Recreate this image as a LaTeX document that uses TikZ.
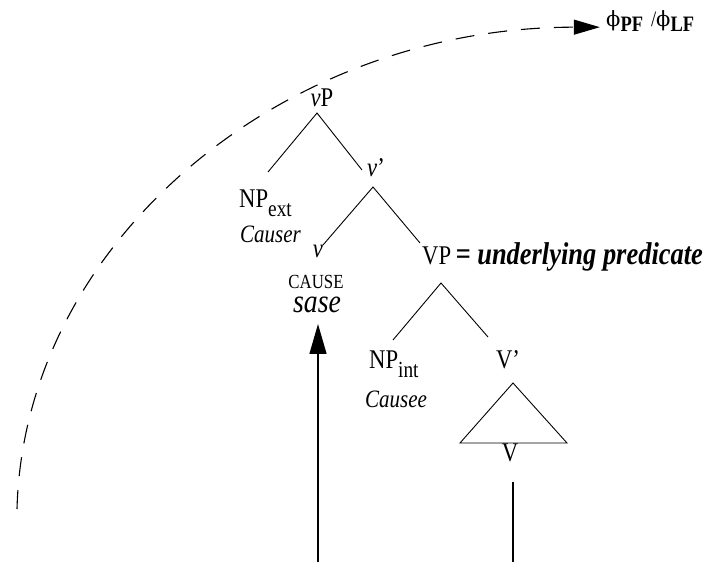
\documentclass[tikz,border=0pt]{standalone}
\usepackage{fontspec}
\setmainfont[FakeStretch=0.84]{Liberation Serif}
\newfontfamily\phifont{DejaVu Serif}
\usetikzlibrary{arrows.meta, positioning}
\definecolor{ink}{HTML}{000000}
\tikzset{
  lbl/.style={font=\fontsize{27}{29}\selectfont, text=ink, inner sep=0pt, anchor=base},
  role/.style={font=\itshape\fontsize{25}{27}\selectfont, text=ink, inner sep=0pt, anchor=base},
  head/.style={font=\fontsize{20}{22}\selectfont, text=ink, inner sep=0pt, anchor=base},
  morph/.style={font=\itshape\fontsize{33}{35}\selectfont, text=ink, inner sep=0pt, anchor=base, text height=15pt},
  note/.style={font=\bfseries\itshape\fontsize{31.5}{33}\selectfont, text=ink, inner sep=0pt, anchor=base west},
  outlbl/.style={font=\fontsize{22}{24}\selectfont, text=ink, inner sep=0pt, anchor=base west},
  branch/.style={draw=ink, line width=0.9pt},
  feed/.style={draw=ink, line width=1.4pt},
  spellout/.style={draw=ink, line width=1.1pt, dash pattern=on 19pt off 14pt}
}
\newcommand{\lowsub}[1]{\raisebox{-9pt}{\fontsize{23}{23}\selectfont #1}}
\newcommand{\pfsub}[1]{\raisebox{-5pt}{\fontsize{22}{22}\selectfont\bfseries #1}}
\newcommand{\phisym}{{\phifont\fontsize{21}{23}\selectfont ϕ}}

\begin{document}
\begin{tikzpicture}[x=1pt,y=1pt]
\useasboundingbox (0,0) rectangle (706,562);

\node[lbl] (vP) at (322,455) {\textit{v}P};
\node[lbl] (vbar) at (376,385) {\textit{v}’};
\node[lbl, anchor=base west] (npext) at (239,354) {NP\lowsub{ext}};
\node[role, anchor=base west] (causer) at (240,319) {Causer};
\node[lbl] (vsmall) at (318,304) {\textit{v}};
\node[lbl, anchor=base west] (vp) at (422,297) {VP};
\node[note] (pred) at ([xshift=4pt]vp.base east) {= underlying predicate};
\node[head] (cause) at (316,273) {CAUSE};
\node[morph] (sase) at (317,249) {sase};
\node[lbl, anchor=base west] (npint) at (369,193) {NP\lowsub{int}};
\node[role] (causee) at (396,154) {Causee};
\node[lbl] (vbar2) at (508,193) {V’};
\node[lbl] (vlow) at (510,100) {V};
\node[outlbl] (phi) at (606,535) {\phisym\pfsub{PF}\hspace{8pt}/\phisym\pfsub{LF}};

\coordinate (arcstart) at (17,53);
\coordinate (abot) at (318,0);
\coordinate (vbot) at (513,0);

\draw[branch] ([xshift=29pt,yshift=36pt]npext.base west) -- ([xshift=-5pt,yshift=-6pt]vP.base) -- ([xshift=-14pt,yshift=7pt]vbar.base);
\draw[branch] ([xshift=5pt,yshift=13pt]vsmall.base) -- ([xshift=-3pt,yshift=-10pt]vbar.base) -- ([xshift=-2pt,yshift=22pt]vp.base west);
\draw[branch] ([xshift=24pt,yshift=29pt]npint.base west) -- ([xshift=19pt,yshift=-18pt]vp.base west) -- ([xshift=-20pt,yshift=32pt]vbar2.base);
\draw[branch] ([xshift=5pt,yshift=-14pt]vbar2.base) -- ++(-53,-60) -- ++(107,0) -- cycle;

\draw[feed] ([xshift=3pt,yshift=-20pt]vlow.base) -- (vbot);
\draw[feed, -{Triangle[length=30pt, width=17pt]}] (abot) -- ([xshift=1pt,yshift=-11pt]sase.base);

\draw[spellout, -{Triangle[length=26pt, width=15pt]}] (arcstart) arc[start angle=178.7, end angle=90, x radius=583, y radius=493];

\end{tikzpicture}
\end{document}
